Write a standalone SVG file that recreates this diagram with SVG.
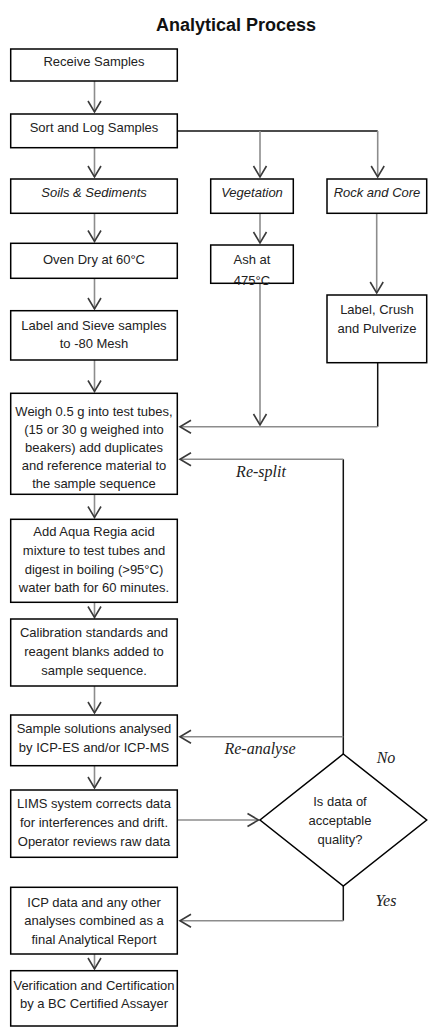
<svg xmlns="http://www.w3.org/2000/svg" width="433" height="1030" viewBox="0 0 433 1030">
<style>
  .box{fill:#fff;stroke:#000;stroke-width:1.5}
  .t{font-family:"Liberation Sans",Arial,sans-serif;font-size:13px;fill:#222;text-anchor:middle}
  .ti{font-style:italic}
  .title{font-family:"Liberation Sans",Arial,sans-serif;font-size:18px;font-weight:bold;fill:#111;text-anchor:middle}
  .lbl{font-family:"Liberation Serif","Times New Roman",serif;font-size:16px;font-style:italic;fill:#222;text-anchor:middle}
  .arr{fill:none;stroke:#8c8c8c;stroke-width:1.6;marker-end:url(#ah)}
  .seg{fill:none;stroke:#111;stroke-width:1.5}
</style>
<defs>
  <marker id="ah" markerUnits="userSpaceOnUse" markerWidth="14" markerHeight="16" viewBox="0 0 14 16" refX="12" refY="8" orient="auto">
    <path d="M1,1.5 L12,8 L1,14.5" fill="none" stroke="#3a3a3a" stroke-width="1.6"/>
  </marker>
</defs>
<rect width="433" height="1030" fill="#fff"/>
<text class="title" x="236" y="31">Analytical Process</text>

<g id="connectors">
  <path class="arr" d="M94.5,81 V112"/>
  <path class="arr" d="M94.5,147.7 V177"/>
  <path class="seg" d="M177.3,131 H377.7"/>
  <path class="arr" d="M260,131 V177"/>
  <path class="arr" d="M377.7,131 V177"/>
  <path class="arr" d="M94.5,213.3 V241.5"/>
  <path class="arr" d="M260,213.3 V243"/>
  <path class="arr" d="M376.7,213.3 V293"/>
  <path class="arr" d="M94.5,278.3 V309"/>
  <path class="arr" d="M94.5,360 V391.5"/>
  <path class="arr" d="M260,283.3 V425"/>
  <path class="seg" d="M377.7,362.7 V426.7"/>
  <path class="arr" d="M377.7,426.7 H180"/>
  <path class="seg" d="M343.3,754 V459.3"/>
  <path class="arr" d="M343.3,459.3 H180"/>
  <path class="arr" d="M94.5,494.3 V517.5"/>
  <path class="arr" d="M94.5,602.3 V617.5"/>
  <path class="arr" d="M94.5,686 V713"/>
  <path class="arr" d="M343.3,736.7 H180"/>
  <path class="arr" d="M94.5,765.7 V788"/>
  <path class="arr" d="M177.3,820 H258.5"/>
  <path class="seg" d="M343.3,886 V920.7"/>
  <path class="arr" d="M343.3,920.7 H180"/>
  <path class="arr" d="M94.5,954 V969"/>
  <text class="lbl" x="261" y="477">Re-split</text>
  <text class="lbl" x="260" y="754">Re-analyse</text>
  <text class="lbl" x="386" y="763">No</text>
  <text class="lbl" x="386" y="906">Yes</text>
</g>

<g id="receive"><rect class="box" x="10.7" y="49" width="166.6" height="32"/><text class="t" x="94" y="66">Receive Samples</text></g>
<g id="sort"><rect class="box" x="10.7" y="114" width="166.6" height="33.7"/><text class="t" x="94" y="132">Sort and Log Samples</text></g>
<g id="soils"><rect class="box" x="10.7" y="179" width="166.6" height="34.3"/><text class="t ti" x="94" y="197">Soils &amp; Sediments</text></g>
<g id="vegetation"><rect class="box" x="210.7" y="179" width="82.6" height="34.3"/><text class="t ti" x="252" y="197">Vegetation</text></g>
<g id="rock"><rect class="box" x="327" y="179" width="99.7" height="34.3"/><text class="t ti" x="377" y="197">Rock and Core</text></g>
<g id="ovendry"><rect class="box" x="10.7" y="243.3" width="166.6" height="35"/><text class="t" x="94" y="264">Oven Dry at 60°C</text></g>
<g id="ash"><rect class="box" x="210.7" y="245" width="82.6" height="38.3"/><text class="t" x="252" y="263.5">Ash at</text><text class="t" x="252" y="284.5">475°C</text></g>
<g id="crush"><rect class="box" x="327" y="295" width="99.7" height="67.7"/><text class="t" x="377" y="313.5">Label, Crush</text><text class="t" x="377" y="332.5">and Pulverize</text></g>
<g id="sieve"><rect class="box" x="10.7" y="310.7" width="166.6" height="49.3"/><text class="t" x="94" y="329.5">Label and Sieve samples</text><text class="t" x="94" y="347.5">to -80 Mesh</text></g>
<g id="weigh"><rect class="box" x="10.7" y="393.3" width="166.6" height="101"/>
  <text class="t" x="94" y="416">Weigh 0.5 g into test tubes,</text>
  <text class="t" x="94" y="434">(15 or 30 g weighed into</text>
  <text class="t" x="94" y="452">beakers) add duplicates</text>
  <text class="t" x="94" y="470">and reference material to</text>
  <text class="t" x="94" y="488">the sample sequence</text></g>
<g id="aqua"><rect class="box" x="10.7" y="519.3" width="166.6" height="83"/>
  <text class="t" x="94" y="536">Add Aqua Regia acid</text>
  <text class="t" x="94" y="554.8">mixture to test tubes and</text>
  <text class="t" x="94" y="573.6">digest in boiling (&gt;95°C)</text>
  <text class="t" x="94" y="592.4">water bath for 60 minutes.</text></g>
<g id="calibration"><rect class="box" x="10.7" y="619" width="166.6" height="67"/>
  <text class="t" x="94" y="637">Calibration standards and</text>
  <text class="t" x="94" y="656">reagent blanks added to</text>
  <text class="t" x="94" y="675">sample sequence.</text></g>
<g id="analyse"><rect class="box" x="10.7" y="715" width="166.6" height="50.7"/>
  <text class="t" x="94" y="733">Sample solutions analysed</text>
  <text class="t" x="94" y="751.5">by ICP-ES and/or ICP-MS</text></g>
<g id="lims"><rect class="box" x="10.7" y="790" width="166.6" height="67.3"/>
  <text class="t" x="94" y="808">LIMS system corrects data</text>
  <text class="t" x="94" y="827">for interferences and drift.</text>
  <text class="t" x="94" y="846">Operator reviews raw data</text></g>
<g id="decision"><polygon class="box" points="343.3,754 426.7,820 343.3,886 260,820"/>
  <text class="t" x="340" y="806">Is data of</text>
  <text class="t" x="340" y="824.5">acceptable</text>
  <text class="t" x="340" y="844">quality?</text></g>
<g id="report"><rect class="box" x="10.7" y="887.3" width="166.6" height="66.7"/>
  <text class="t" x="94" y="907">ICP data and any other</text>
  <text class="t" x="94" y="925">analyses combined as a</text>
  <text class="t" x="94" y="944">final Analytical Report</text></g>
<g id="verify"><rect class="box" x="10.7" y="970.7" width="166.6" height="55.3"/>
  <text class="t" x="94" y="989.5">Verification and Certification</text>
  <text class="t" x="94" y="1008">by a BC Certified Assayer</text></g>
</svg>
